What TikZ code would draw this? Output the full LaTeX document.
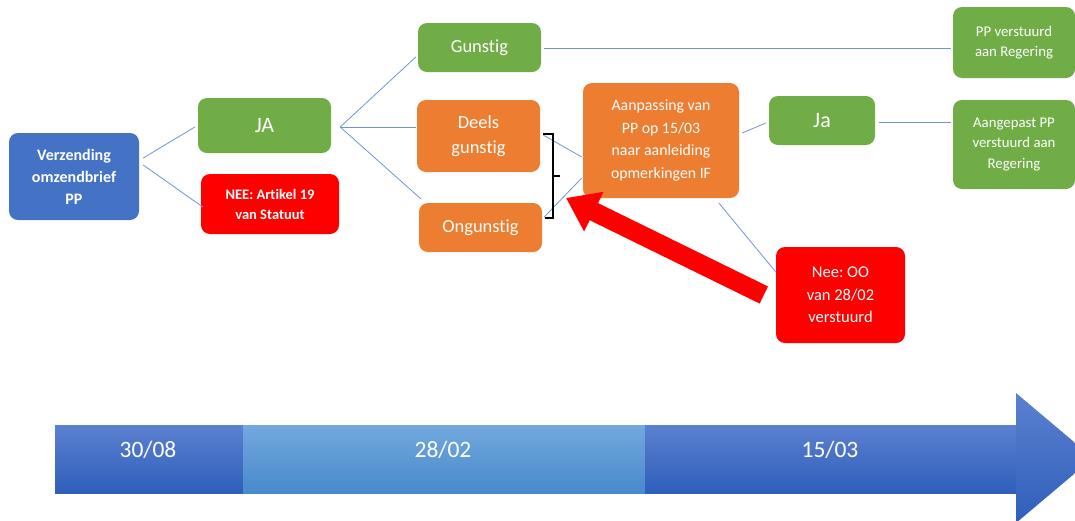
\documentclass[tikz,border=0pt]{standalone}
\usepackage{fontspec}
\setmainfont{Carlito}[Ligatures={NoCommon}]
\usetikzlibrary{arrows.meta}
\definecolor{boxblue}{HTML}{4472C4}
\definecolor{boxgreen}{HTML}{70AD47}
\definecolor{boxorange}{HTML}{ED7D31}
\definecolor{boxred}{HTML}{FF0000}
\definecolor{linkblue}{HTML}{6F93D6}
\definecolor{tldark}{HTML}{2F5FBA}
\definecolor{tldarktop}{HTML}{5B80D0}
\definecolor{tllight}{HTML}{478ACB}
\definecolor{tllighttop}{HTML}{73A8DE}
\frenchspacing
\begin{document}
\begin{tikzpicture}[x=1pt, y=-1pt,
    box/.style={rectangle, rounded corners=9pt, text=white, align=center, inner sep=0pt},
    link/.style={draw=linkblue, line width=0.8pt},
    datum/.style={text=white, font=\fontsize{23.5}{24}\selectfont}]
    \useasboundingbox (0,0) rectangle (1075,520);
    \clip (0,0) rectangle (1075,520);
    % boxes
    \node[box, fill=boxblue, minimum width=130pt, minimum height=87pt, font=\bfseries\fontsize{16}{22}\selectfont] (verz) at (74,176.5) {Verzending\\omzendbrief\\PP};
    \node[box, fill=boxgreen, minimum width=133pt, minimum height=55pt, font=\fontsize{22}{22}\selectfont] (ja) at (264.5,125.5) {JA};
    \node[box, fill=boxred, minimum width=138pt, minimum height=60pt, font=\bfseries\fontsize{14.5}{20}\selectfont] (nee) at (270,204) {NEE: Artikel 19\\van Statuut};
    \node[box, fill=boxgreen, minimum width=123pt, minimum height=49pt, font=\fontsize{18.5}{25}\selectfont] (gun) at (479.5,47.5) {Gunstig};
    \node[box, fill=boxorange, minimum width=123pt, minimum height=72pt, font=\fontsize{18.5}{25}\selectfont] (deels) at (478.5,136) {Deels\\gunstig};
    \node[box, fill=boxorange, minimum width=123pt, minimum height=49pt, font=\fontsize{18.5}{25}\selectfont] (ongun) at (480.5,227.5) {Ongunstig};
    \node[box, fill=boxorange, minimum width=156pt, minimum height=115pt, font=\fontsize{15.8}{22.5}\selectfont] (aanp) at (661,140.5) {Aanpassing van\\PP op 15/03\\naar aanleiding\\opmerkingen IF};
    \node[box, fill=boxgreen, minimum width=106pt, minimum height=49pt, font=\fontsize{22}{22}\selectfont] (ja2) at (822,120.5) {Ja};
    \node[box, fill=boxgreen, minimum width=122pt, minimum height=71pt, font=\fontsize{14.8}{20}\selectfont] (ppv) at (1014,42.5) {PP verstuurd\\aan Regering};
    \node[box, fill=boxgreen, minimum width=122pt, minimum height=89pt, font=\fontsize{14.8}{20.5}\selectfont] (aangep) at (1014,144.5) {Aangepast PP\\verstuurd aan\\Regering};
    \node[box, fill=boxred, minimum width=129pt, minimum height=96pt, font=\fontsize{16.5}{22.5}\selectfont] (nee2) at (840.5,295) {Nee: OO\\van 28/02\\verstuurd};
    % connectors
    \draw[link] ([shift={(4,-18.5)}]verz.east) -- ([shift={(-3,1.5)}]ja.west);
    \draw[link] ([shift={(4,-11.5)}]verz.east) -- ([shift={(2,3)}]nee.west);
    \coordinate (fan) at ([shift={(9,1.5)}]ja.east);
    \draw[link] (fan) -- ([shift={(-2,9.5)}]gun.west);
    \draw[link] (fan) -- ([shift={(-1,-9)}]deels.west);
    \draw[link] (fan) -- ([shift={(2,-4)}]ongun.north west);
    \draw[link] ([shift={(3,0.5)}]gun.east) -- ([shift={(-2,5.5)}]ppv.west);
    \draw[link] ([shift={(3,-1)}]deels.east) -- ([shift={(-1,16.5)}]aanp.west);
    \draw[link] ([shift={(2,-10.5)}]ongun.east) -- ([shift={(-1,37.5)}]aanp.west);
    \draw[link] ([shift={(3,-7.5)}]aanp.east) -- ([shift={(-3,2.5)}]ja2.west);
    \draw[link] ([shift={(4,1.5)}]ja2.east) -- ([shift={(-2,-22.5)}]aangep.west);
    \draw[link] ([shift={(58,5)}]aanp.south) -- ([shift={(0,-23)}]nee2.west);
    % bracket
    \draw[line width=2pt] (543,134) -- (553,134) -- (553,218) -- (545,218);
    \draw[line width=2pt] (553,176) -- (560,176);
    % red arrow
    \coordinate (tip) at (566,198);
    \draw[boxred, line width=19pt, -{Triangle[length=31pt, width=42pt]}] ([xshift=-12pt]nee2.west) -- (tip);
    % timeline
    \shade[top color=tldarktop, bottom color=tldark] (55,425) rectangle (243,493);
    \shade[top color=tllighttop, bottom color=tllight] (243,425) rectangle (645,493);
    \shade[top color=tldarktop, bottom color=tldark] (645,425) rectangle (1017,493);
    \shade[top color=tldarktop, bottom color=tldark] (1016,393) -- (1093,458) -- (1016,523) -- cycle;
    \node[datum] (d1) at (148,450) {30/08};
    \node[datum] (d2) at (443,450) {28/02};
    \node[datum] (d3) at (830,450) {15/03};
\end{tikzpicture}
\end{document}
